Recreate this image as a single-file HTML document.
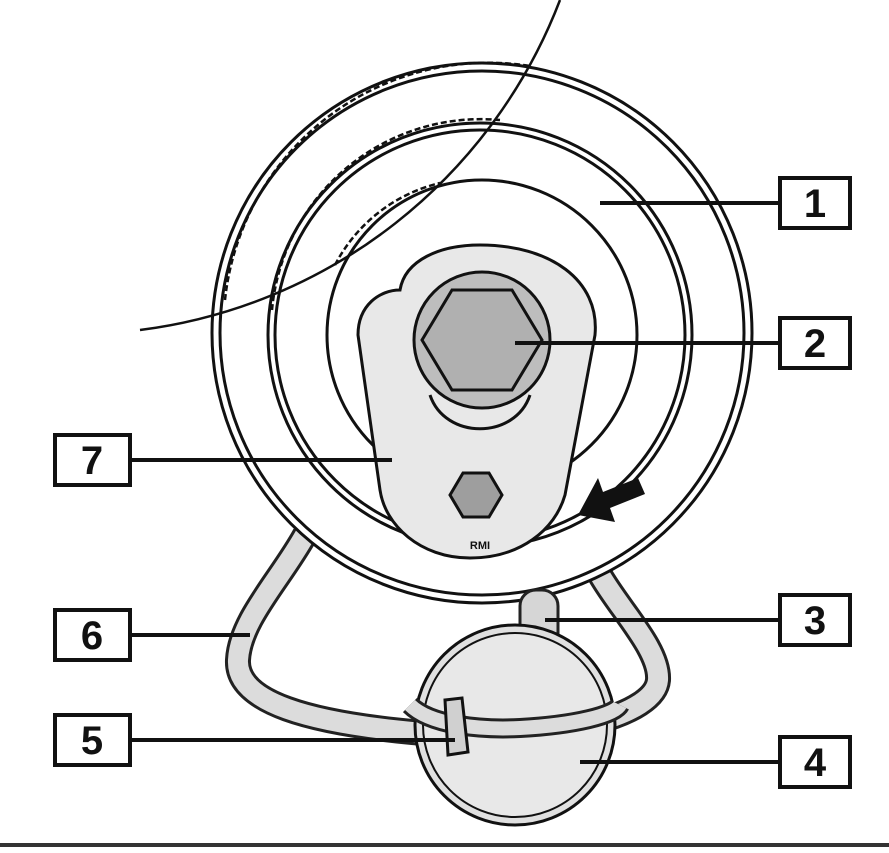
<!DOCTYPE html>
<html><head><meta charset="utf-8"><style>html,body{margin:0;padding:0;background:#fff}svg{display:block}</style></head>
<body>
<svg width="889" height="853" viewBox="0 0 889 853" xmlns="http://www.w3.org/2000/svg">
<rect width="889" height="853" fill="#fff"/>
<path d="M305,535 C280,580 240,620 238,660 C236,700 300,725 450,735 C560,740 655,715 658,680 C660,650 620,610 600,575" fill="none" stroke="#222" stroke-width="26" stroke-linejoin="round"/>
<path d="M305,535 C280,580 240,620 238,660 C236,700 300,725 450,735 C560,740 655,715 658,680 C660,650 620,610 600,575" fill="none" stroke="#dcdcdc" stroke-width="20" stroke-linejoin="round"/>
<circle cx="482" cy="333" r="270" fill="#fff" stroke="#111" stroke-width="3"/>
<circle cx="482" cy="333" r="262" fill="none" stroke="#111" stroke-width="3"/>
<circle cx="480" cy="335" r="212" fill="none" stroke="#111" stroke-width="3"/>
<circle cx="480" cy="335" r="205" fill="none" stroke="#111" stroke-width="3"/>
<circle cx="482" cy="335" r="155" fill="none" stroke="#111" stroke-width="3"/>
<path d="M225,300 A265,265 0 0 1 530,66" fill="none" stroke="#111" stroke-width="2.5" stroke-dasharray="6,3"/>
<path d="M272,310 A210,210 0 0 1 500,120" fill="none" stroke="#111" stroke-width="2.5" stroke-dasharray="6,3"/>
<path d="M335,265 A160,160 0 0 1 440,183" fill="none" stroke="#111" stroke-width="2.5" stroke-dasharray="6,3"/>
<path d="M140,330 A520,520 0 0 0 560,0" fill="none" stroke="#111" stroke-width="2.5"/>
<path d="M400,290 C380,290 358,305 358,335 L380,490 C385,525 420,558 470,558 C520,558 555,530 565,495 L595,335 C600,280 550,245 480,245 C440,245 405,260 400,290 Z" fill="#e8e8e8" stroke="#111" stroke-width="3"/>
<path d="M430,395 C445,440 515,440 530,395" fill="none" stroke="#111" stroke-width="3"/>
<circle cx="482" cy="340" r="68" fill="#bdbdbd" stroke="#111" stroke-width="3"/>
<polygon points="422,340 452,290 512,290 542,340 512,390 452,390" fill="#b0b0b0" stroke="#111" stroke-width="3"/>
<polygon points="450,495 463,473 489,473 502,495 489,517 463,517" fill="#9e9e9e" stroke="#111" stroke-width="3"/>
<text x="480" y="549" font-family="Liberation Sans, sans-serif" font-size="11" font-weight="bold" text-anchor="middle" fill="#111">RMI</text>
<polygon points="578,515 598,478 603,492 638,478 645,494 610,508 615,522" fill="#111"/>
<rect x="520" y="590" width="38" height="90" rx="16" fill="#d6d6d6" stroke="#222" stroke-width="3"/>
<circle cx="515" cy="725" r="100" fill="#e0e0e0" stroke="#111" stroke-width="3"/>
<circle cx="515" cy="725" r="92" fill="#e8e8e8" stroke="#111" stroke-width="2"/>
<path d="M410,705 C430,725 480,730 520,728 C575,725 615,715 620,705" fill="none" stroke="#222" stroke-width="20"/>
<path d="M410,705 C430,725 480,730 520,728 C575,725 615,715 620,705" fill="none" stroke="#dcdcdc" stroke-width="14"/>
<polygon points="445,700 462,698 468,752 448,755" fill="#d0d0d0" stroke="#111" stroke-width="3"/>
<g stroke="#111" stroke-width="4">
<line x1="600" y1="203" x2="780" y2="203"/>
<line x1="515" y1="343" x2="780" y2="343"/>
<line x1="130" y1="460" x2="392" y2="460"/>
<line x1="130" y1="635" x2="250" y2="635"/>
<line x1="545" y1="620" x2="780" y2="620"/>
<line x1="130" y1="740" x2="455" y2="740"/>
<line x1="580" y1="762" x2="780" y2="762"/>
</g>
<g font-family="Liberation Sans, sans-serif" font-size="40" font-weight="bold" text-anchor="middle" fill="#111">
<rect x="780" y="178" width="70" height="50" fill="#fff" stroke="#111" stroke-width="4"/><text x="815" y="217">1</text>
<rect x="780" y="318" width="70" height="50" fill="#fff" stroke="#111" stroke-width="4"/><text x="815" y="357">2</text>
<rect x="55" y="435" width="75" height="50" fill="#fff" stroke="#111" stroke-width="4"/><text x="92" y="474">7</text>
<rect x="55" y="610" width="75" height="50" fill="#fff" stroke="#111" stroke-width="4"/><text x="92" y="649">6</text>
<rect x="780" y="595" width="70" height="50" fill="#fff" stroke="#111" stroke-width="4"/><text x="815" y="634">3</text>
<rect x="55" y="715" width="75" height="50" fill="#fff" stroke="#111" stroke-width="4"/><text x="92" y="754">5</text>
<rect x="780" y="737" width="70" height="50" fill="#fff" stroke="#111" stroke-width="4"/><text x="815" y="776">4</text>
</g>
<rect x="0" y="843" width="889" height="4" fill="#333"/>
</svg>
</body></html>
